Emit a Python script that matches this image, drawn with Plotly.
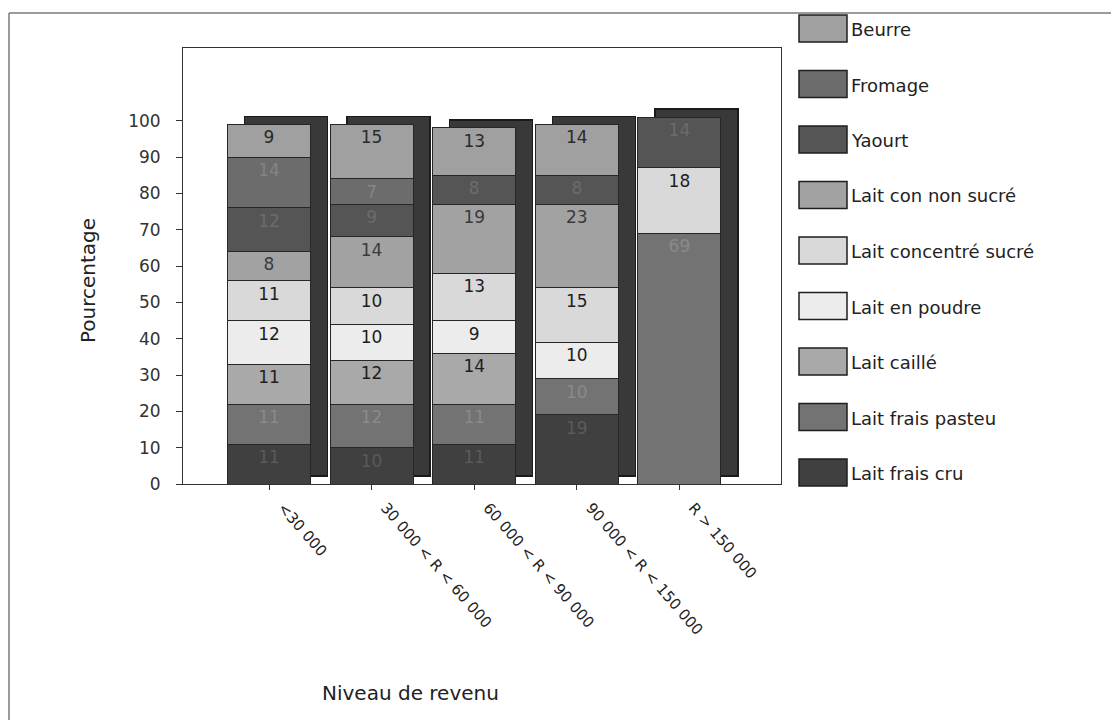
import plotly.graph_objects as go

# Income brackets (x categories) and y-axis tick values
categories = ["<30 000", "30 000 < R < 60 000", "60 000 < R < 90 000",
              "90 000 < R < 150 000", "R > 150 000"]
y_tick_values = [0, 10, 20, 30, 40, 50, 60, 70, 80, 90, 100]

# Share (%) of each dairy product per income bracket, stacked bottom -> top
lait_frais_cru = [11, 10, 11, 19, None]
lait_frais_pasteu = [11, 12, 11, 10, 69]
lait_caille = [11, 12, 14, None, None]
lait_en_poudre = [12, 10, 9, 10, None]
lait_concentre_sucre = [11, 10, 13, 15, 18]
lait_con_non_sucre = [8, 14, 19, 23, None]
yaourt = [12, 9, 8, 8, 14]
fromage = [14, 7, None, None, None]
beurre = [9, 15, 13, 14, None]

stack = [
    ("Lait frais cru", lait_frais_cru),
    ("Lait frais pasteu", lait_frais_pasteu),
    ("Lait caillé", lait_caille),
    ("Lait en poudre", lait_en_poudre),
    ("Lait concentré sucré", lait_concentre_sucre),
    ("Lait con non sucré", lait_con_non_sucre),
    ("Yaourt", yaourt),
    ("Fromage", fromage),
    ("Beurre", beurre),
]

# Styles
fill_colors = {
    "Lait frais cru": "#404040",
    "Lait frais pasteu": "#737373",
    "Lait caillé": "#a9a9a9",
    "Lait en poudre": "#ececec",
    "Lait concentré sucré": "#d9d9d9",
    "Lait con non sucré": "#a2a2a2",
    "Yaourt": "#555555",
    "Fromage": "#6c6c6c",
    "Beurre": "#a0a0a0",
}
label_colors = {
    "Lait frais cru": "#5a5a5a",
    "Lait frais pasteu": "#8a8a8a",
    "Lait caillé": "#1e1e1e",
    "Lait en poudre": "#1e1e1e",
    "Lait concentré sucré": "#1e1e1e",
    "Lait con non sucré": "#3a3a3a",
    "Yaourt": "#6c6c6c",
    "Fromage": "#848484",
    "Beurre": "#2a2a2a",
}
FONT = "DejaVu Sans"
TEXT = "#222222"

# Page geometry (pixels)
W, H = 1111, 720
PLOT_L, PLOT_R, PLOT_T, PLOT_B = 183, 781, 48, 484
Y_MAX = 120
FIRST_CENTER, STEP = 269, 102.6
BAR_PX = 83
DEPTH_X_PX, DEPTH_Y_PX = 17, 8

positions = list(range(len(categories)))
x0 = -(FIRST_CENTER - PLOT_L) / STEP
x1 = x0 + (PLOT_R - PLOT_L) / STEP
bar_width = BAR_PX / STEP
dx = DEPTH_X_PX / STEP
dy = DEPTH_Y_PX * Y_MAX / (PLOT_B - PLOT_T)


def px_x(px):
    return (px - PLOT_L) / (PLOT_R - PLOT_L)


def px_y(py):
    return (PLOT_B - py) / (PLOT_B - PLOT_T)


totals = [sum(v[i] or 0 for _, v in stack) for i in positions]

fig = go.Figure()

# Depth panels behind each column (drawn on shifted hidden axes)
fig.add_trace(go.Bar(
    x=positions, y=totals, width=bar_width,
    marker=dict(color="#393939", line=dict(color="#1a1a1a", width=1.5)),
    xaxis="x", yaxis="y", hoverinfo="skip", showlegend=False,
))

# Front stacked columns
for name, vals in stack:
    fig.add_trace(go.Bar(
        x=positions, y=vals, width=bar_width, name=name,
        marker=dict(color=fill_colors[name], line=dict(color="#262626", width=1)),
        text=[str(v) if v else "" for v in vals],
        textposition="inside", insidetextanchor="end", textangle=0,
        constraintext="none",
        textfont=dict(family=FONT, size=17, color=label_colors[name]),
        xaxis="x2", yaxis="y2", showlegend=False,
    ))

shapes = []
annotations = []

# Outer chart frame (top and left edges)
shapes.append(dict(type="line", xref="paper", yref="paper",
                   x0=px_x(9), x1=px_x(W), y0=px_y(13), y1=px_y(13),
                   line=dict(color="#7a7a7a", width=1.5)))
shapes.append(dict(type="line", xref="paper", yref="paper",
                   x0=px_x(9), x1=px_x(9), y0=px_y(13), y1=px_y(H),
                   line=dict(color="#7a7a7a", width=1.5)))

# Legend: large swatches on the right, top entry = top of the stack
LEG_TOP, LEG_STEP = 28.5, 55.5
for i, (name, _) in enumerate(reversed(stack)):
    cy = LEG_TOP + i * LEG_STEP
    shapes.append(dict(type="rect", xref="paper", yref="paper",
                       x0=px_x(799), x1=px_x(847),
                       y0=px_y(cy + 13.5), y1=px_y(cy - 13.5),
                       fillcolor=fill_colors[name],
                       line=dict(color="#1e1e1e", width=1.5)))
    annotations.append(dict(text=name, xref="paper", yref="paper",
                            x=px_x(849), y=px_y(cy + 1), xanchor="left",
                            yanchor="middle", showarrow=False,
                            font=dict(family=FONT, size=18, color=TEXT)))

# Axis titles
annotations.append(dict(text="Pourcentage", xref="paper", yref="paper",
                        x=px_x(88), y=px_y(281), textangle=-90,
                        xanchor="center", yanchor="middle", showarrow=False,
                        font=dict(family=FONT, size=20, color=TEXT)))
annotations.append(dict(text="Niveau de revenu", xref="paper", yref="paper",
                        x=px_x(410), y=px_y(693), xanchor="center",
                        yanchor="middle", showarrow=False,
                        font=dict(family=FONT, size=20, color=TEXT)))

fig.update_layout(
    width=W, height=H,
    margin=dict(l=PLOT_L, r=W - PLOT_R, t=PLOT_T, b=H - PLOT_B, pad=0),
    paper_bgcolor="white", plot_bgcolor="white",
    barmode="stack",
    font=dict(family=FONT, color=TEXT),
    xaxis=dict(visible=False, range=[x0 - dx, x1 - dx], fixedrange=True),
    yaxis=dict(visible=False, range=[-dy, Y_MAX - dy], fixedrange=True),
    xaxis2=dict(overlaying="x", anchor="y2", range=[x0, x1],
                tickvals=positions, ticktext=categories, tickangle=49,
                tickfont=dict(family=FONT, size=15, color=TEXT),
                ticks="outside", ticklen=5, tickcolor="#333",
                showline=True, linecolor="#333", linewidth=1, mirror=True,
                showgrid=False, zeroline=False, ticklabelstandoff=3,
                ticklabelshift=14),
    yaxis2=dict(overlaying="y", anchor="x2", side="left", range=[0, Y_MAX],
                tickvals=y_tick_values,
                tickfont=dict(family=FONT, size=17, color="#333"),
                ticks="outside", ticklen=6, tickcolor="#333",
                showline=True, linecolor="#333", linewidth=1, mirror=True,
                showgrid=False, zeroline=False, ticklabelstandoff=12),
    shapes=shapes,
    annotations=annotations,
)

fig.write_html("out.html")
